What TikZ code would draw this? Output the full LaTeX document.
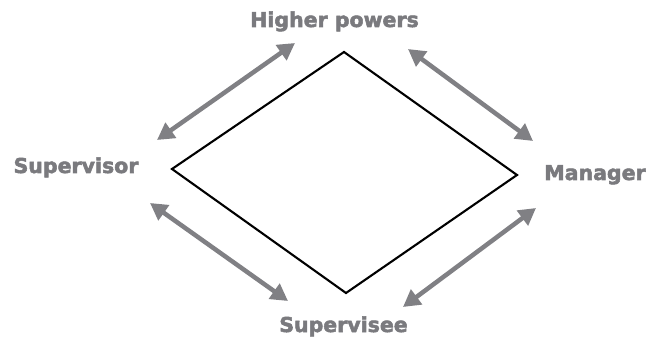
\documentclass[tikz,border=0pt]{standalone}
\usepackage{fontspec}
\setmainfont{DejaVu Sans}
\newfontfamily\labfont[FakeBold=2.5]{DejaVu Sans Bold}
\usetikzlibrary{arrows.meta}
\definecolor{labgrey}{RGB}{122,122,126}
\definecolor{arrgrey}{RGB}{128,128,132}
\tikzset{
  lab/.style={text=labgrey, font=\labfont\fontsize{20.5}{22}\selectfont, anchor=base, inner sep=0pt},
  dbl/.style={draw=arrgrey, line width=4.5pt, {Triangle[length=17pt,width=18pt]}-{Triangle[length=17pt,width=18pt]}},
  edge/.style={draw=black, line width=2.1pt, line join=miter}
}
\begin{document}
\begin{tikzpicture}[x=1pt,y=-1pt]
\useasboundingbox (0,0) rectangle (661,339);
\node[lab] (hp) at (334.5,27) {Higher powers};
\node[lab] (sv) at (76,173) {Supervisor};
\node[lab] (mg) at (595,180) {Manager};
\node[lab] (se) at (343.5,332) {Supervisee};
\coordinate (T) at (344,52);
\coordinate (L) at (172,169);
\coordinate (R) at (517,175);
\coordinate (B) at (346,293);
\draw[edge] (T) -- (R) -- (B) -- (L) -- cycle;
\coordinate (a1) at (157,140); \coordinate (a2) at (295,43);
\coordinate (b1) at (408,49); \coordinate (b2) at (533,141);
\coordinate (c1) at (150,203); \coordinate (c2) at (288,301);
\coordinate (d1) at (536,208); \coordinate (d2) at (403,307);
\draw[dbl] (a1) -- (a2);
\draw[dbl] (b1) -- (b2);
\draw[dbl] (c1) -- (c2);
\draw[dbl] (d1) -- (d2);
\end{tikzpicture}
\end{document}
